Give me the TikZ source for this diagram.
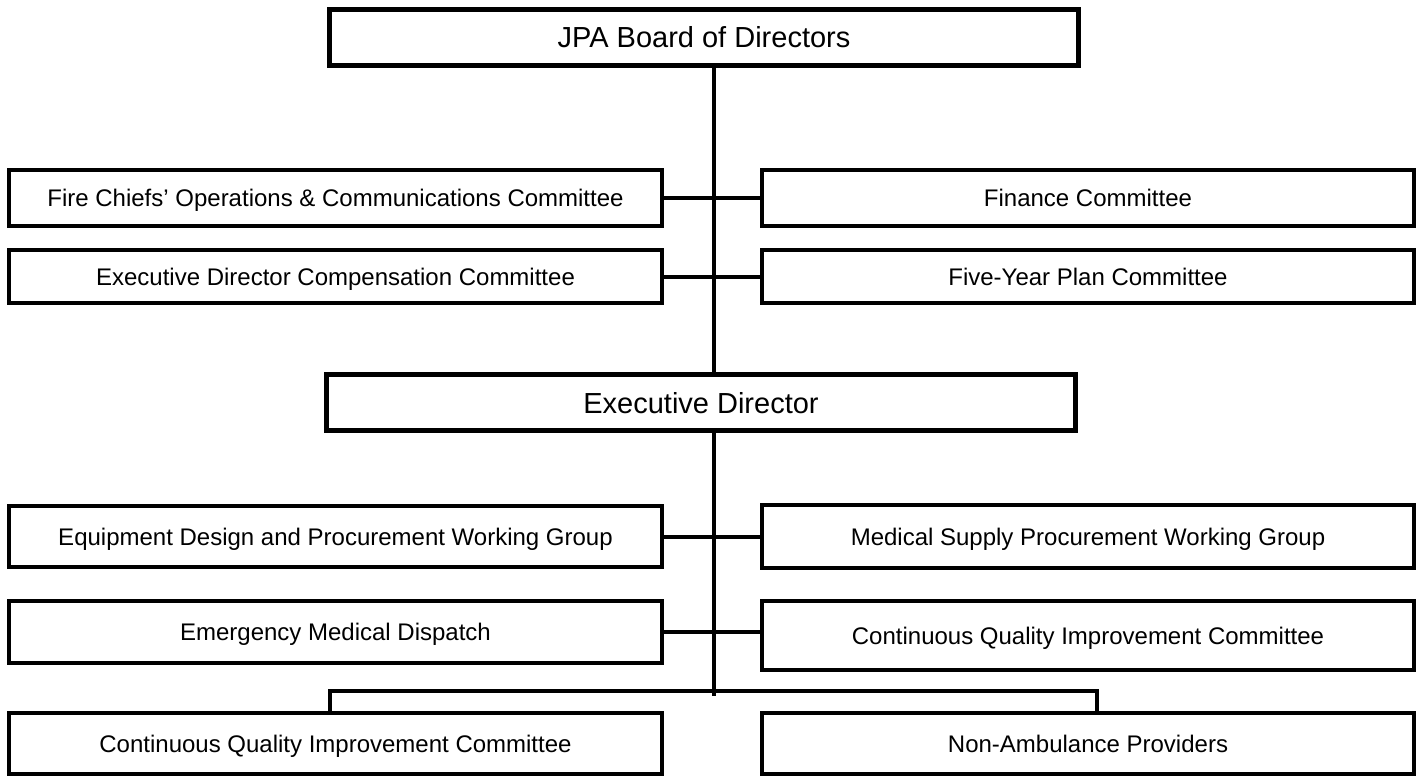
\documentclass[tikz,border=0pt]{standalone}
\usepackage{fontspec}
\setmainfont{Liberation Sans}
\usepackage{tikz}
\usetikzlibrary{positioning}

\begin{document}
\begin{tikzpicture}[x=1pt, y=-1pt,
    box/.style={draw, line width=4pt, inner sep=0pt, align=center, text height=17pt, text depth=0pt, font=\fontsize{24}{28}\selectfont},
    headbox/.style={box, line width=5pt, minimum width=749pt, minimum height=56pt, text height=21pt, font=\fontsize{29}{34}\selectfont},
    link/.style={line width=4pt}]
    \useasboundingbox (0,0) rectangle (1424,776);

    \node[headbox] (board) at (704,37.5) {JPA Board of Directors};
    \node[headbox] (exec) at (701,402.5) {Executive Director};

    \node[box, minimum width=653pt, minimum height=56pt] (firechiefs) at (335.5,198) {Fire Chiefs’ Operations \& Communications Committee};
    \node[box, minimum width=652pt, minimum height=56pt] (finance) at (1088,198) {Finance Committee};
    \node[box, minimum width=653pt, minimum height=53pt] (compensation) at (335.5,276.5) {Executive Director Compensation Committee};
    \node[box, minimum width=652pt, minimum height=53pt] (fiveyear) at (1088,276.5) {Five-Year Plan Committee};

    \node[box, minimum width=653pt, minimum height=61pt] (equipment) at (335.5,536.5) {Equipment Design and Procurement Working Group};
    \node[box, minimum width=652pt, minimum height=63pt] (medsupply) at (1088,536.5) {Medical Supply Procurement Working Group};
    \node[box, minimum width=653pt, minimum height=62pt] (dispatch) at (335.5,632) {Emergency Medical Dispatch};
    \node[box, minimum width=652pt, minimum height=69pt] (cqiright) at (1088,635.5) {Continuous Quality Improvement Committee};

    \node[box, minimum width=653pt, minimum height=61pt] (cqileft) at (335.5,743.5) {Continuous Quality Improvement Committee};
    \node[box, minimum width=652pt, minimum height=61pt] (nonamb) at (1088,743.5) {Non-Ambulance Providers};

    \coordinate (spine) at (714,0);
    \coordinate (spineend) at (714,696);
    \coordinate (busL) at (330,691);
    \coordinate (busR) at (1097,691);

    \draw[link] (board.south -| spine) -- (exec.north -| spine);
    \draw[link] (firechiefs.east) -- (finance.west |- firechiefs.east);
    \draw[link] (compensation.east) -- (fiveyear.west |- compensation.east);

    \draw[link] (exec.south -| spine) -- (spineend);
    \draw[link] (equipment.east) -- (medsupply.west |- equipment.east);
    \draw[link] (dispatch.east) -- (cqiright.west |- dispatch.east);

    \draw[link] (cqileft.north -| busL) -- (busL) -- (busR) -- (busR |- nonamb.north);
\end{tikzpicture}
\end{document}
